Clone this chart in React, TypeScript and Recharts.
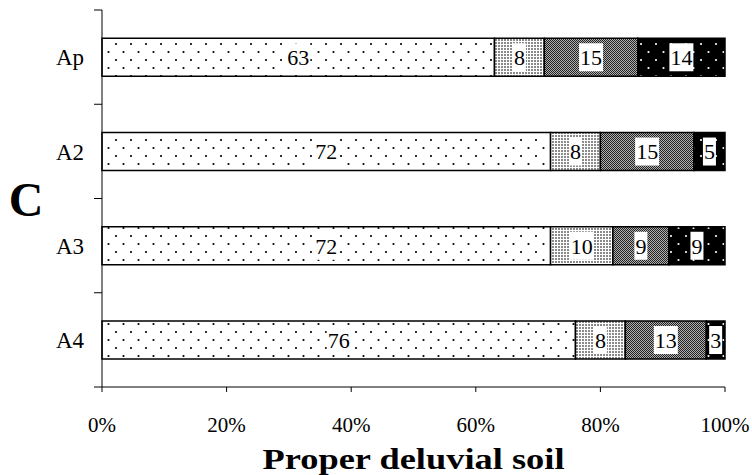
import React from 'react';
import { BarChart, Bar, XAxis, YAxis, LabelList } from 'recharts';

const categories = ['Ap', 'A2', 'A3', 'A4'];
const series1 = [63, 72, 72, 76];
const series2 = [8, 8, 10, 8];
const series3 = [15, 15, 9, 13];
const series4 = [14, 5, 9, 3];
const xTicks = [0, 20, 40, 60, 80, 100];
const sideLetter = 'C';
const xTitle = 'Proper deluvial soil';

const data = categories.map((cat, i) => ({
  cat,
  s1: series1[i],
  s2: series2[i],
  s3: series3[i],
  s4: series4[i],
}));

const FONT = '"Liberation Serif", "Times New Roman", serif';
const Y_TICK_SIZE = 8;
const Y_TICK_MARGIN = 10;

const YTick = (props: any) => {
  const { x, y, payload, index } = props;
  const half = payload && payload.offset ? payload.offset : 47;
  const lx1 = x + Y_TICK_MARGIN;
  const lx2 = lx1 + Y_TICK_SIZE;
  return (
    <g>
      <line x1={lx1} x2={lx2} y1={y - half} y2={y - half} stroke="#000" strokeWidth={1} />
      {index === categories.length - 1 && (
        <line x1={lx1} x2={lx2} y1={y + half} y2={y + half} stroke="#000" strokeWidth={1} />
      )}
      <text x={x} y={y} dy="0.355em" textAnchor="end" fontSize={23} fontFamily={FONT} fill="#000">
        {payload.value}
      </text>
    </g>
  );
};

const BoxLabel = (props: any) => {
  const { x, y, width, height, value } = props;
  const s = String(value);
  const w = s.length * 11 + 2;
  const h = 28;
  const cx = x + width / 2;
  const cy = y + height / 2;
  return (
    <g>
      <rect x={cx - w / 2} y={cy - h / 2} width={w} height={h} fill="#fff" />
      <text x={cx} y={cy} dy="0.355em" textAnchor="middle" fontSize={22} fontFamily={FONT} fill="#000">
        {s}
      </text>
    </g>
  );
};

const SideLabel = (props: any) => {
  const vb = props.viewBox || {};
  const cy = (vb.y || 0) + (vb.height || 0) / 2;
  return (
    <text x={26} y={cy} dy="0.355em" textAnchor="middle" fontSize={48} fontWeight="bold" fontFamily={FONT} fill="#000">
      {sideLetter}
    </text>
  );
};

const TitleLabel = (props: any) => {
  const vb = props.viewBox || {};
  const cx = (vb.x || 0) + (vb.width || 0) / 2;
  return (
    <text
      x={cx}
      y={(vb.y || 0) + 82}
      textAnchor="middle"
      fontSize={30}
      fontWeight="bold"
      fontFamily={FONT}
      fill="#000"
      textLength={302}
      lengthAdjust="spacingAndGlyphs"
    >
      {xTitle}
    </text>
  );
};

export default function App() {
  return (
    <div style={{ position: 'absolute', left: 0, top: 0, width: 752, height: 475, background: '#fff', fontFamily: FONT }}>
      <BarChart
        width={752}
        height={475}
        data={data}
        layout="vertical"
        margin={{ top: 10, right: 27, bottom: 0, left: 0 }}
        barCategoryGap="30%"
      >
        <defs>
          <pattern id="p1" width="15" height="16" patternUnits="userSpaceOnUse">
            <rect width="15" height="16" fill="#fff" />
            <circle cx="3.5" cy="4" r="1.1" fill="#000" />
            <circle cx="11" cy="12" r="1.1" fill="#000" />
          </pattern>
          <pattern id="p2" width="3" height="3" patternUnits="userSpaceOnUse">
            <rect width="3" height="3" fill="#fff" />
            <rect x="0" y="0" width="2" height="2" fill="#8a8a8a" />
          </pattern>
          <pattern id="p3" width="2" height="2" patternUnits="userSpaceOnUse">
            <rect width="2" height="2" fill="#b0b0b0" />
            <rect x="0" y="0" width="1" height="1" fill="#222" />
            <rect x="1" y="1" width="1" height="1" fill="#222" />
          </pattern>
          <pattern id="p4" width="15" height="16" patternUnits="userSpaceOnUse">
            <rect width="15" height="16" fill="#000" />
            <circle cx="3.5" cy="4" r="1.1" fill="#fff" />
            <circle cx="11" cy="12" r="1.1" fill="#fff" />
          </pattern>
        </defs>
        <XAxis
          type="number"
          domain={[0, 100]}
          ticks={xTicks}
          tickFormatter={(v: number) => `${v}%`}
          height={88}
          tickSize={5}
          tickMargin={25}
          axisLine={{ stroke: '#000', strokeWidth: 1 }}
          tickLine={{ stroke: '#000', strokeWidth: 1 }}
          tick={{ fill: '#000', fontSize: 21, fontFamily: FONT }}
          interval={0}
          label={<TitleLabel />}
        />
        <YAxis
          type="category"
          dataKey="cat"
          width={102}
          tickSize={Y_TICK_SIZE}
          tickMargin={Y_TICK_MARGIN}
          tickLine={false}
          axisLine={{ stroke: '#000', strokeWidth: 1 }}
          tick={<YTick />}
          interval={0}
          label={<SideLabel />}
        />
        <Bar dataKey="s1" stackId="a" fill="url(#p1)" stroke="#000" strokeWidth={1.5} isAnimationActive={false}>
          <LabelList dataKey="s1" content={<BoxLabel />} />
        </Bar>
        <Bar dataKey="s2" stackId="a" fill="url(#p2)" stroke="#000" strokeWidth={1.5} isAnimationActive={false}>
          <LabelList dataKey="s2" content={<BoxLabel />} />
        </Bar>
        <Bar dataKey="s3" stackId="a" fill="url(#p3)" stroke="#000" strokeWidth={1.5} isAnimationActive={false}>
          <LabelList dataKey="s3" content={<BoxLabel />} />
        </Bar>
        <Bar dataKey="s4" stackId="a" fill="url(#p4)" stroke="#000" strokeWidth={1.5} isAnimationActive={false}>
          <LabelList dataKey="s4" content={<BoxLabel />} />
        </Bar>
      </BarChart>
    </div>
  );
}
